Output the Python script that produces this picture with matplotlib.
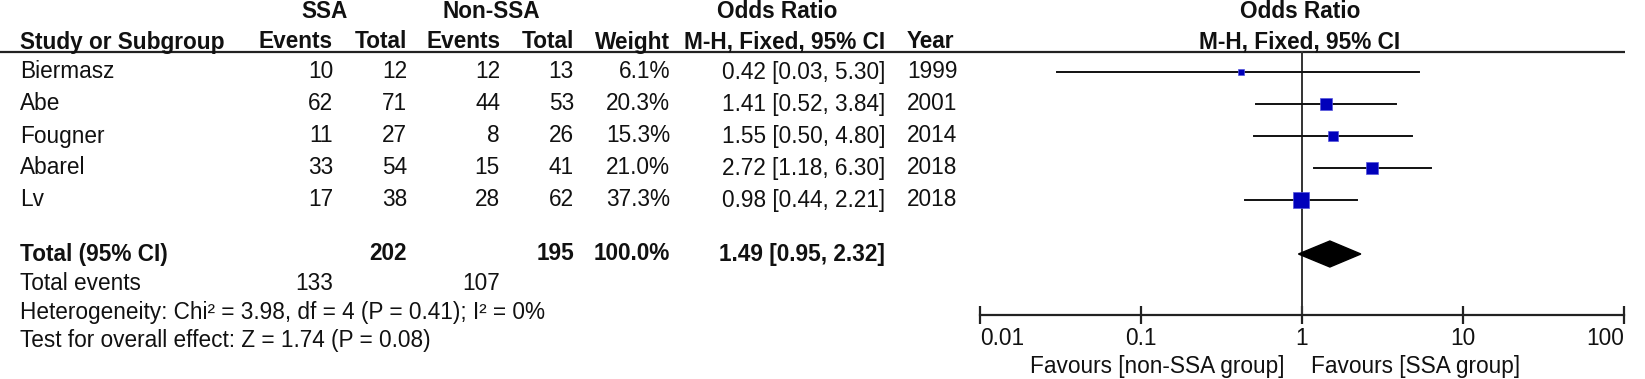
import matplotlib
matplotlib.use('Agg')
import matplotlib.pyplot as plt
from matplotlib import font_manager
import numpy as np

# data
studies = ['Biermasz', 'Abe', 'Fougner', 'Abarel', 'Lv']
ssa_events = [10, 62, 11, 33, 17]
ssa_total = [12, 71, 27, 54, 38]
non_events = [12, 44, 8, 15, 28]
non_total = [13, 53, 26, 41, 62]
weights = [6.1, 20.3, 15.3, 21.0, 37.3]
or_est = [0.42, 1.41, 1.55, 2.72, 0.98]
ci_lo = [0.03, 0.52, 0.50, 1.18, 0.44]
ci_hi = [5.30, 3.84, 4.80, 6.30, 2.21]
years = [1999, 2001, 2014, 2018, 2018]
tot_ssa, tot_non, tot_weight = 202, 195, 100.0
tot_ev_ssa, tot_ev_non = 133, 107
tot_or, tot_lo, tot_hi = 1.49, 0.95, 2.32
xticks = [0.01, 0.1, 1, 10, 100]
xticklabels = ['0.01', '0.1', '1', '10', '100']

names = {f.name for f in font_manager.fontManager.ttflist}
fam = 'Liberation Sans' if 'Liberation Sans' in names else 'DejaVu Sans'
plt.rcParams['font.family'] = [fam, 'DejaVu Sans']

W, H = 1645, 379
fig = plt.figure(figsize=(W/100, H/100), dpi=100)
ax = fig.add_axes([0, 0, 1, 1])
ax.set_xlim(0, W)
ax.set_ylim(H, 0)
ax.axis('off')

fs = 16.3
txtc = '#111111'

def t(x, y, s, ha='left', bold=False):
   ax.text(x, y, s, ha=ha, va='center', fontsize=fs, color=txtc,
           fontweight='bold' if bold else 'normal')

# column positions (pixels)
x_name = 20
x_se, x_st, x_ne, x_nt, x_w, x_or, x_yr = 333, 407, 500, 574, 670, 885, 907

row_y = [72, 104, 136, 168, 200]
y_tot = 254

# headers
t(325, 12, 'SSA', 'center', True)
t(491, 12, 'Non-SSA', 'center', True)
t(777, 12, 'Odds Ratio', 'center', True)
t(x_name, 42, 'Study or Subgroup', bold=True)
t(x_se, 42, 'Events', 'right', True)
t(x_st, 42, 'Total', 'right', True)
t(x_ne, 42, 'Events', 'right', True)
t(x_nt, 42, 'Total', 'right', True)
t(x_w, 42, 'Weight', 'right', True)
t(x_or, 42, 'M-H, Fixed, 95% CI', 'right', True)
t(x_yr, 42, 'Year', bold=True)
ax.plot([0, 1625], [52, 52], color='#222222', lw=1.6, solid_capstyle='butt')

for i in range(len(studies)):
   y = row_y[i]
   t(x_name, y, studies[i])
   t(x_se, y, str(ssa_events[i]), 'right')
   t(x_st, y, str(ssa_total[i]), 'right')
   t(x_ne, y, str(non_events[i]), 'right')
   t(x_nt, y, str(non_total[i]), 'right')
   t(x_w, y, '%.1f%%' % weights[i], 'right')
   t(x_or, y, '%.2f [%.2f, %.2f]' % (or_est[i], ci_lo[i], ci_hi[i]), 'right')
   t(x_yr, y, str(years[i]))

t(x_name, y_tot, 'Total (95% CI)', bold=True)
t(x_st, y_tot, str(tot_ssa), 'right', True)
t(x_nt, y_tot, str(tot_non), 'right', True)
t(x_w, y_tot, '%.1f%%' % tot_weight, 'right', True)
t(x_or, y_tot, '%.2f [%.2f, %.2f]' % (tot_or, tot_lo, tot_hi), 'right', True)
t(x_name, 283, 'Total events')
t(x_se, 283, str(tot_ev_ssa), 'right')
t(x_ne, 283, str(tot_ev_non), 'right')
t(x_name, 312, 'Heterogeneity: Chi\u00b2 = 3.98, df = 4 (P = 0.41); I\u00b2 = 0%')
t(x_name, 340, 'Test for overall effect: Z = 1.74 (P = 0.08)')

# right panel headers
t(1300, 12, 'Odds Ratio', 'center', True)
t(1300, 42, 'M-H, Fixed, 95% CI', 'center', True)

# forest panel, y in same pixel units
x0, x1, ytop, ybot = 980, 1624, 52, 315
fx = fig.add_axes([x0/W, (H-ybot)/H, (x1-x0)/W, (ybot-ytop)/H])
fx.set_xscale('log')
fx.set_xlim(0.01, 100)
fx.set_ylim(ybot, ytop)
fx.patch.set_visible(False)
for s in ['top', 'left', 'right']:
   fx.spines[s].set_visible(False)
fx.spines['bottom'].set_linewidth(1.6)
fx.spines['bottom'].set_color('#222222')
fx.set_yticks([])
fx.set_xticks(xticks)
fx.set_xticklabels(xticklabels)
fx.minorticks_off()
fx.tick_params(axis='x', direction='inout', length=13, width=1.6, color='#222222',
               labelsize=fs, labelcolor=txtc, pad=2)
tl = fx.get_xticklabels()
tl[0].set_ha('left')
tl[-1].set_ha('right')

fx.plot([1, 1], [ytop, ybot], color='#333333', lw=1.4, clip_on=False)

for i in range(len(studies)):
   y = row_y[i]
   fx.plot([ci_lo[i], ci_hi[i]], [y, y], color='#111111', lw=1.4, clip_on=False)
   side = 2.6 * np.sqrt(weights[i])
   fx.plot([or_est[i]], [y], marker='s', ms=side*0.72, color='#0000bb',
           mec='#5555dd', mew=0.5, clip_on=False, zorder=3)

fx.fill([tot_lo, tot_or, tot_hi, tot_or], [y_tot, y_tot-13, y_tot, y_tot+13],
        color='black', clip_on=False, zorder=3)

ax.text(1285, 367, 'Favours [non-SSA group]', ha='right', va='center', fontsize=fs, color=txtc)
ax.text(1311, 367, 'Favours [SSA group]', ha='left', va='center', fontsize=fs, color=txtc)

fig.savefig('out.png', dpi=100)
